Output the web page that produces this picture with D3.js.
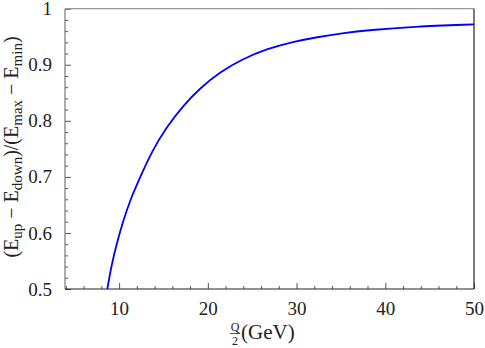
<!DOCTYPE html>
<html>
<head>
<meta charset="utf-8">
<script src="https://cdn.jsdelivr.net/npm/d3@7"></script>
<style>
  body { margin: 0; background: #fff; }
  text { font-family: "Liberation Serif", "DejaVu Serif", serif; fill: #222; }
</style>
</head>
<body>
<svg width="485" height="348"></svg>
<script>
// values
var q = [8.67, 9.16, 9.73, 10.47, 11.23, 12.36, 13.67, 15.35, 17.22, 19.1, 21.35, 24, 26.6, 29.6, 32.6, 35, 38.3, 43, 50];
var ratio = [0.5, 0.544, 0.581, 0.622, 0.658, 0.699, 0.745, 0.789, 0.827, 0.858, 0.887, 0.911, 0.928, 0.941, 0.95, 0.956, 0.962, 0.968, 0.972];
var xMajor = [10, 20, 30, 40, 50];
var yMajor = [0.5, 0.6, 0.7, 0.8, 0.9, 1];

var plotLeft = 65, plotRight = 474, plotTop = 8.7, plotBottom = 289;

var svg = d3.select("svg");

var x = d3.scaleLinear().domain([3.9, 50]).range([plotLeft, plotRight]);
var y = d3.scaleLinear().domain([0.5, 1]).range([plotBottom, plotTop]);

// minor ticks
var xMinor = d3.range(4, 50.01, 2).filter(function (d) { return d % 10 != 0; });
var yMinor = d3.range(0.52, 1, 0.02).filter(function (d) { return Math.abs(d * 10 - Math.round(d * 10)) > 0.01; });

svg.append("g")
    .attr("transform", "translate(0," + plotBottom + ")")
    .call(d3.axisBottom(x).tickValues(xMinor).tickSize(-3).tickFormat(""))
    .call(function (g) { g.select(".domain").remove(); g.selectAll("line").attr("stroke", "#555"); });

svg.append("g")
    .attr("transform", "translate(0," + plotBottom + ")")
    .call(d3.axisBottom(x).tickValues(xMajor).tickSize(-6).tickPadding(13).tickFormat(d3.format("d")))
    .call(function (g) {
        g.select(".domain").remove();
        g.selectAll("line").attr("stroke", "#555");
        g.selectAll("text").attr("font-size", 19).attr("fill", "#222");
    });

svg.append("g")
    .attr("transform", "translate(" + plotLeft + ",0)")
    .call(d3.axisLeft(y).tickValues(yMinor).tickSize(-3).tickFormat(""))
    .call(function (g) { g.select(".domain").remove(); g.selectAll("line").attr("stroke", "#555"); });

svg.append("g")
    .attr("transform", "translate(" + plotLeft + ",0)")
    .call(d3.axisLeft(y).tickValues(yMajor).tickSize(-6).tickPadding(13).tickFormat(function (d) { return d == 1 ? "1" : d3.format(".1f")(d); }))
    .call(function (g) {
        g.select(".domain").remove();
        g.selectAll("line").attr("stroke", "#555");
        g.selectAll("text").attr("font-size", 19).attr("fill", "#222");
    });

// frame
svg.append("line").attr("x1", plotLeft).attr("x2", plotRight).attr("y1", plotTop).attr("y2", plotTop).attr("stroke", "#999").attr("stroke-width", 1.2);
svg.append("line").attr("x1", plotLeft).attr("x2", plotLeft).attr("y1", plotTop).attr("y2", plotBottom).attr("stroke", "#777").attr("stroke-width", 1.2);
svg.append("line").attr("x1", plotRight).attr("x2", plotRight).attr("y1", plotTop).attr("y2", plotBottom).attr("stroke", "#222").attr("stroke-width", 1.2);
svg.append("line").attr("x1", plotLeft).attr("x2", plotRight).attr("y1", plotBottom).attr("y2", plotBottom).attr("stroke", "#222").attr("stroke-width", 1.2);

// curve
var pts = q.map(function (d, i) { return [d, ratio[i]]; });
var line = d3.line()
    .x(function (d) { return x(d[0]); })
    .y(function (d) { return y(d[1]); })
    .curve(d3.curveBasis);

svg.append("path")
    .datum(pts)
    .attr("d", line)
    .attr("fill", "none")
    .attr("stroke", "#0000ff")
    .attr("stroke-width", 1.8);

// x label: Q/2 (GeV)
var xl = svg.append("g");
xl.append("text").attr("x", 235).attr("y", 331).attr("font-size", 12).attr("text-anchor", "middle").text("Q");
xl.append("line").attr("x1", 230).attr("x2", 240).attr("y1", 333.5).attr("y2", 333.5).attr("stroke", "#222").attr("stroke-width", 0.8);
xl.append("text").attr("x", 235).attr("y", 345).attr("font-size", 12).attr("text-anchor", "middle").text("2");
xl.append("text").attr("x", 241).attr("y", 339).attr("font-size", 21).text("(GeV)");

// y label
var yl = svg.append("text")
    .attr("transform", "translate(18,147) rotate(-90)")
    .attr("text-anchor", "middle")
    .attr("font-size", 20);
yl.append("tspan").text("(E");
yl.append("tspan").attr("font-size", 15).attr("dy", 4).text("up");
yl.append("tspan").attr("dy", -4).text(" \u2212 E");
yl.append("tspan").attr("font-size", 15).attr("dy", 4).text("down");
yl.append("tspan").attr("dy", -4).text(")/(E");
yl.append("tspan").attr("font-size", 15).attr("dy", 4).text("max");
yl.append("tspan").attr("dy", -4).text(" \u2212 E");
yl.append("tspan").attr("font-size", 15).attr("dy", 4).text("min");
yl.append("tspan").attr("dy", -4).text(")");
</script>
</body>
</html>
